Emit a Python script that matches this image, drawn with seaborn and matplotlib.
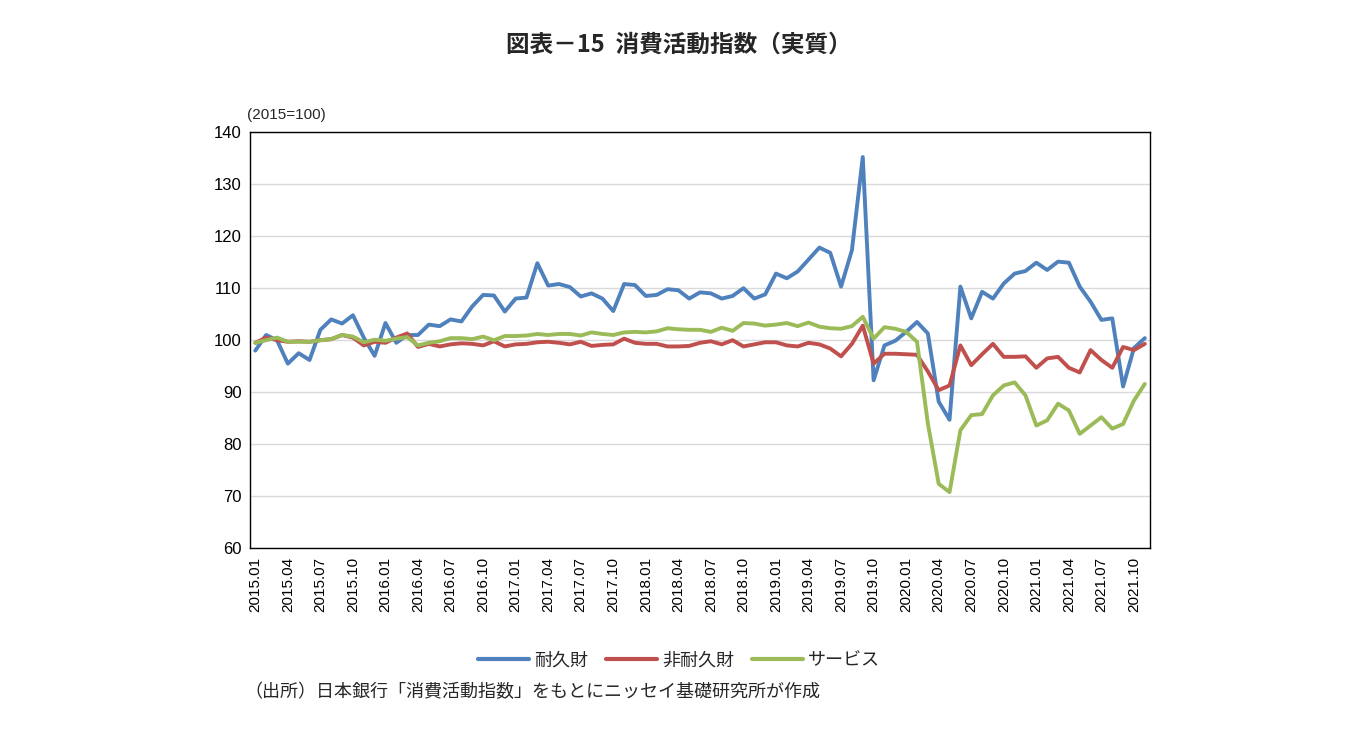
import numpy as np
import pandas as pd
import matplotlib.pyplot as plt
import seaborn as sns

sns.set_style("white")
plt.rcParams["font.family"] = "sans-serif"
plt.rcParams["font.sans-serif"] = ["Noto Sans CJK JP", "DejaVu Sans"]

# monthly index, 2015.01 - 2021.11
months = [f"{y}.{m:02d}" for y in range(2015, 2022) for m in range(1, 13)][:83]

durable = [98, 101, 100, 95.5, 97.5, 96.2, 102, 104, 103.2, 104.8, 100.5, 97,
           103.3, 99.5, 101, 101, 103, 102.7, 104, 103.6, 106.5, 108.7, 108.6, 105.5,
           108, 108.2, 114.8, 110.5, 110.8, 110.2, 108.4, 109, 108, 105.6, 110.8, 110.6,
           108.5, 108.7, 109.8, 109.6, 108, 109.2, 109, 108, 108.5, 110, 108, 108.8,
           112.8, 111.9, 113.2, 115.5, 117.8, 116.8, 110.3, 117.3, 135.2, 92.3, 99, 99.9,
           101.6, 103.5, 101.3, 88.2, 84.7, 110.3, 104.2, 109.3, 108, 110.9, 112.8, 113.3,
           114.9, 113.5, 115.1, 114.9, 110.3, 107.4, 103.9, 104.2, 91.1, 98.5, 100.4]
nondurable = [99.5, 100.5, 100, 99.7, 99.8, 99.7, 100, 100.2, 101, 100.5, 99, 99.7,
              99.5, 100.5, 101.3, 98.7, 99.3, 98.8, 99.2, 99.4, 99.3, 99, 99.8, 98.8,
              99.2, 99.3, 99.6, 99.7, 99.5, 99.2, 99.7, 98.9, 99.1, 99.2, 100.3, 99.5,
              99.3, 99.3, 98.8, 98.8, 98.9, 99.5, 99.8, 99.2, 100, 98.8, 99.2, 99.6,
              99.6, 99, 98.8, 99.5, 99.2, 98.4, 96.9, 99.3, 102.8, 95.5, 97.4, 97.4,
              97.3, 97.2, 94, 90.4, 91.3, 99, 95.2, 97.3, 99.3, 96.8, 96.8, 96.9,
              94.7, 96.5, 96.8, 94.7, 93.8, 98.1, 96.2, 94.7, 98.7, 98.1, 99.3]
services = [99.5, 100, 100.5, 99.7, 99.7, 99.7, 100, 100.2, 101, 100.7, 99.6, 100.1,
            99.9, 100.3, 100.6, 99, 99.5, 99.8, 100.4, 100.4, 100.2, 100.7, 100, 100.8,
            100.8, 100.9, 101.2, 101, 101.2, 101.2, 100.9, 101.5, 101.2, 101, 101.5, 101.6,
            101.5, 101.7, 102.3, 102.1, 102, 102, 101.6, 102.4, 101.8, 103.3, 103.2, 102.8,
            103, 103.3, 102.7, 103.4, 102.6, 102.3, 102.2, 102.7, 104.5, 100.3, 102.5, 102.2,
            101.6, 99.7, 84, 72.4, 70.8, 82.7, 85.6, 85.8, 89.4, 91.3, 91.9, 89.4,
            83.6, 84.6, 87.8, 86.5, 82, 83.6, 85.2, 83, 83.9, 88.4, 91.6]

series_names = ["耐久財", "非耐久財", "サービス"]
colors = ["#4F81BD", "#C0504D", "#9BBB59"]

df = pd.DataFrame({"idx": np.arange(len(months)), "耐久財": durable,
                   "非耐久財": nondurable, "サービス": services})
long = df.melt(id_vars="idx", var_name="系列", value_name="値")

fig = plt.figure(figsize=(13.58, 7.42), dpi=100)
ax = fig.add_axes([0.184, 0.261, 0.663, 0.561])
sns.lineplot(data=long, x="idx", y="値", hue="系列", hue_order=series_names,
             palette=colors, linewidth=2.8, ax=ax, legend=False)

ax.set_xlim(-0.5, len(months) - 0.5)
ax.set_ylim(60, 140)
ax.set_yticks(range(60, 141, 10))
ax.set_xticks(np.arange(0, len(months), 3))
ax.set_xticklabels(months[::3], rotation=90, fontsize=11, fontfamily="Liberation Sans")
for lb in ax.get_yticklabels():
    lb.set_fontfamily("Liberation Sans")
    lb.set_fontsize(12)
ax.set_xlabel("")
ax.set_ylabel("")
ax.grid(axis="y", color="#d9d9d9", linewidth=1)
for s in ax.spines.values():
    s.set_color("black")
    s.set_linewidth(1)
ax.tick_params(axis="both", length=0, pad=6, colors="black")

fig.text(0.5, 0.93, "図表－15  消費活動指数（実質）", ha="center", fontsize=17,
         fontweight="bold")
fig.text(0.182, 0.84, "(2015=100)", fontsize=11, fontfamily="Liberation Sans")

handles = [plt.Line2D([], [], color=c, linewidth=3) for c in colors]
fig.legend(handles, series_names, loc="center", bbox_to_anchor=(0.5, 0.11),
           ncol=3, frameon=False, fontsize=13, handlelength=2.8, columnspacing=1.0,
           handletextpad=0.3)
fig.text(0.18, 0.06, "（出所）日本銀行「消費活動指数」をもとにニッセイ基礎研究所が作成",
         fontsize=13)

fig.savefig("out.png", dpi=100)
